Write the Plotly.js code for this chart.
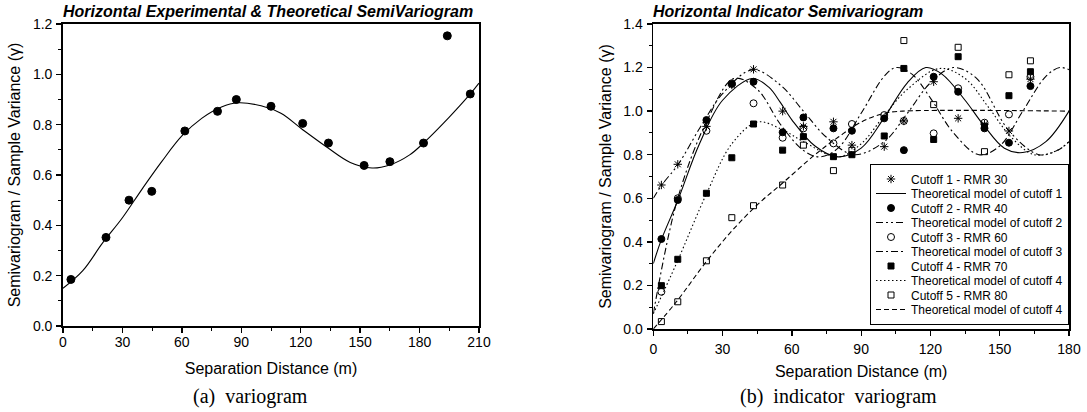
<!DOCTYPE html>
<html>
<head>
<meta charset="utf-8">
<script src="https://cdn.plot.ly/plotly-3.0.1.min.js"></script>
<style>
html,body{margin:0;padding:0;background:#fff;}
#chart{width:1087px;height:412px;}
</style>
</head>
<body>
<div id="chart"></div>
<script>
// ---------- (a) variogram ----------
const expLag   = [4, 21.7, 33.3, 44.8, 61.5, 78, 87.5, 105, 121, 134, 152, 165, 182, 194, 205.6];
const expGamma = [0.185, 0.352, 0.50, 0.535, 0.775, 0.853, 0.90, 0.873, 0.805, 0.727, 0.638, 0.653, 0.727, 1.153, 0.922];
const fitLag   = [0, 10, 20, 30, 40, 50, 60, 70, 80, 88, 100, 110, 121, 134, 145, 156, 165, 175, 182, 195, 205.6, 210];
const fitGamma = [0.15, 0.22, 0.33, 0.43, 0.545, 0.655, 0.755, 0.825, 0.87, 0.887, 0.875, 0.845, 0.78, 0.706, 0.65, 0.628, 0.64, 0.68, 0.727, 0.83, 0.922, 0.965];

// ---------- (b) indicator variogram ----------
const indLag = [3.5, 10.6, 23, 34, 43.4, 56, 65, 78, 86, 100, 108.5, 121.4, 132, 143.4, 154, 163.3];
const cut1 = [0.661, 0.756, 0.93, 1.12, 1.192, 1.0, 0.93, 0.951, 0.844, 0.837, 0.955, 1.135, 0.967, 0.94, 0.909, 1.147];
const cut2 = [0.413, 0.592, 0.959, 1.125, 1.135, 0.903, 0.971, 0.921, 0.91, 0.967, 0.821, 1.158, 1.089, 0.921, 0.855, 1.115];
const cut3 = [0.171, 0.60, 0.91, 1.128, 1.036, 0.878, 0.921, 0.852, 0.941, 0.982, 0.955, 0.898, 1.105, 0.947, 0.985, 1.158];
const cut4 = [0.199, 0.32, 0.623, 0.786, 0.941, 0.821, 0.883, 0.791, 0.80, 0.886, 1.196, 0.870, 1.25, 0.93, 1.071, 1.181];
const cut5 = [0.034, 0.125, 0.313, 0.511, 0.566, 0.661, 0.844, 0.727, 0.82, 0.737, 1.324, 1.03, 1.293, 0.814, 1.167, 1.231];

const m1Lag = [0, 3.5, 10.6, 20, 30, 43, 50, 55, 60, 70, 80, 90, 100, 110, 118, 125, 135, 143, 152, 160, 170, 180];
const m1Val = [0.30, 0.41, 0.59, 0.85, 1.05, 1.15, 1.11, 1.04, 0.96, 0.84, 0.79, 0.83, 0.97, 1.13, 1.2, 1.17, 1.05, 0.936, 0.83, 0.81, 0.86, 1.0];
const m2Lag = [0, 3.6, 10.8, 20, 30, 43, 55, 65, 75, 87, 100, 110, 120, 130, 140, 154, 167, 175, 180];
const m2Val = [0.60, 0.66, 0.756, 0.92, 1.08, 1.19, 1.12, 1.0, 0.88, 0.80, 0.86, 0.99, 1.13, 1.2, 1.15, 0.91, 0.80, 0.82, 0.86];
const m3Lag = [0, 10.6, 23, 35, 45, 55, 65, 72, 80, 90, 100, 105, 112, 120, 130, 141, 150, 160, 170, 176, 180];
const m3Val = [0.07, 0.6, 0.95, 1.15, 1.1, 0.94, 0.82, 0.79, 0.83, 0.99, 1.16, 1.2, 1.17, 1.06, 0.9, 0.80, 0.84, 1.0, 1.16, 1.2, 1.19];
const m4Lag = [0, 10, 23, 34, 45, 55, 65, 80, 90, 100, 110, 124, 135, 145, 155, 165, 175, 180];
const m4Val = [0.07, 0.3, 0.62, 0.85, 0.95, 0.92, 0.86, 0.79, 0.85, 0.98, 1.1, 1.196, 1.15, 1.02, 0.88, 0.80, 0.82, 0.86];
const m5Lag = [0, 10, 23, 34, 45, 56, 70, 80, 90, 100, 108, 180];
const m5Val = [0, 0.125, 0.31, 0.45, 0.57, 0.67, 0.80, 0.88, 0.95, 0.99, 1.0, 1.0];

const legendNames = [
  "Cutoff 1 - RMR 30", "Theoretical model of cutoff 1",
  "Cutoff 2 - RMR 40", "Theoretical model of cutoff 2",
  "Cutoff 3 - RMR 60", "Theoretical model of cutoff 3",
  "Cutoff 4 - RMR 70", "Theoretical model of cutoff 4",
  "Cutoff 5 - RMR 80", "Theoretical model of cutoff 4"
];

const FONT = "Liberation Sans, Arial, Helvetica, sans-serif";
const SERIF = "Liberation Serif, Times New Roman, serif";
const W = 1087, H = 412;

function pts(x, y, sym, size, name, show, xa, ya) {
  return {x: x, y: y, type: 'scatter', mode: 'markers', name: name, showlegend: show,
    xaxis: xa, yaxis: ya,
    marker: {symbol: sym, size: size, color: '#000', line: {color: '#000', width: 1}}};
}
function curve(x, y, dash, name, show, xa, ya) {
  return {x: x, y: y, type: 'scatter', mode: 'lines', name: name, showlegend: show,
    xaxis: xa, yaxis: ya, line: {color: '#000', width: 1.1, dash: dash, shape: 'spline', smoothing: 1}};
}

const traces = [
  curve(fitLag, fitGamma, 'solid', 'fit', false, 'x', 'y'),
  pts(expLag, expGamma, 'circle', 8, 'exp', false, 'x', 'y'),

  pts(indLag, cut1, 'asterisk-open', 7, legendNames[0], true, 'x2', 'y2'),
  curve(m1Lag, m1Val, 'solid', legendNames[1], true, 'x2', 'y2'),
  pts(indLag, cut2, 'circle', 7, legendNames[2], true, 'x2', 'y2'),
  curve(m2Lag, m2Val, '7px,3px,2px,3px,2px,3px', legendNames[3], true, 'x2', 'y2'),
  pts(indLag, cut3, 'circle-open', 7, legendNames[4], true, 'x2', 'y2'),
  curve(m3Lag, m3Val, '7px,3px,2px,3px', legendNames[5], true, 'x2', 'y2'),
  pts(indLag, cut4, 'square', 6, legendNames[6], true, 'x2', 'y2'),
  curve(m4Lag, m4Val, '1.5px,2.5px', legendNames[7], true, 'x2', 'y2'),
  pts(indLag, cut5, 'square-open', 6, legendNames[8], true, 'x2', 'y2'),
  curve(m5Lag, m5Val, '5px,3px', legendNames[9], true, 'x2', 'y2')
];

const axBase = {
  showline: true, linecolor: '#000', linewidth: 1.8, mirror: true,
  showgrid: false, zeroline: false,
  ticks: 'outside', ticklen: 5, tickwidth: 1.3, tickcolor: '#000',
  tickfont: {family: FONT, size: 14, color: '#000'},
  minor: {ticks: 'outside', ticklen: 3, tickwidth: 1, tickcolor: '#000'}
};

const layout = {
  width: W, height: H,
  margin: {l: 0, r: 0, t: 0, b: 0},
  paper_bgcolor: '#fff', plot_bgcolor: '#fff',
  font: {family: FONT, color: '#000'},
  showlegend: true,
  xaxis: Object.assign({}, axBase, {
    domain: [63/W, 479/W], range: [0, 210], tickmode: 'linear', tick0: 0, dtick: 30,
    minor: Object.assign({}, axBase.minor, {dtick: 15}), anchor: 'y', ticklabelstandoff: -3,
    title: {text: 'Separation Distance (m)', font: {family: FONT, size: 16}, standoff: 14}
  }),
  yaxis: Object.assign({}, axBase, {
    domain: [(H-326)/H, (H-24)/H], range: [0, 1.2], tickmode: 'linear', tick0: 0, dtick: 0.2, tickformat: '.1f',
    minor: Object.assign({}, axBase.minor, {dtick: 0.1}), anchor: 'x', ticklabelstandoff: 1,
    title: {text: 'Semivariogram / Sample Variance (γ)', font: {family: FONT, size: 16}, standoff: 8}
  }),
  xaxis2: Object.assign({}, axBase, {
    domain: [653.3/W, 1069/W], range: [0, 180], tickmode: 'linear', tick0: 0, dtick: 30,
    minor: Object.assign({}, axBase.minor, {dtick: 15}), anchor: 'y2', ticklabelstandoff: 1,
    title: {text: 'Separation Distance (m)', font: {family: FONT, size: 16}, standoff: 10}
  }),
  yaxis2: Object.assign({}, axBase, {
    domain: [(H-329)/H, (H-24)/H], range: [0, 1.4], tickmode: 'linear', tick0: 0, dtick: 0.2, tickformat: '.1f',
    minor: Object.assign({}, axBase.minor, {dtick: 0.1}), anchor: 'x2', ticklabelstandoff: 1,
    title: {text: 'Semivariogram / Sample Variance (γ)', font: {family: FONT, size: 16}, standoff: 8}
  }),
  legend: {
    x: 1069/W, xanchor: 'right', y: (H-325)/H, yanchor: 'bottom',
    bgcolor: '#fff', bordercolor: '#000', borderwidth: 1,
    font: {family: FONT, size: 12, color: '#000'}, tracegroupgap: 0, itemwidth: 30
  },
  annotations: [
    {text: '<b><i>Horizontal Experimental &amp; Theoretical SemiVariogram</i></b>', xref: 'paper', yref: 'paper',
     x: 61/W, y: (H-12)/H, xanchor: 'left', yanchor: 'middle', showarrow: false,
     font: {family: FONT, size: 16, color: '#000'}},
    {text: '<b><i>Horizontal Indicator Semivariogram</i></b>', xref: 'paper', yref: 'paper',
     x: 651/W, y: (H-12)/H, xanchor: 'left', yanchor: 'middle', showarrow: false,
     font: {family: FONT, size: 16, color: '#000'}},
    {text: '(a)  variogram', xref: 'paper', yref: 'paper',
     x: 250/W, y: (H-396)/H, xanchor: 'center', yanchor: 'middle', showarrow: false,
     font: {family: SERIF, size: 20, color: '#000'}},
    {text: '(b)  indicator  variogram', xref: 'paper', yref: 'paper',
     x: 838/W, y: (H-396)/H, xanchor: 'center', yanchor: 'middle', showarrow: false,
     font: {family: SERIF, size: 20, color: '#000'}}
  ]
};

// Tighten the legend's row spacing (the library's minimum row height is larger than the reference's).
function compactLegend(gd, step) {
  try {
    const leg = gd.querySelector('g.legend');
    if (!leg) return;
    const items = Array.from(leg.querySelectorAll('g.traces'));
    if (items.length < 2) return;
    const re = /translate\(\s*([-\d.eE]+)[\s,]+([-\d.eE]+)\s*\)/;
    const pos = items.map(el => {
      const m = re.exec(el.getAttribute('transform') || '');
      return m ? [parseFloat(m[1]), parseFloat(m[2])] : null;
    });
    if (pos.some(p => !p)) return;
    const oldStep = pos[1][1] - pos[0][1];
    if (oldStep <= step) return;
    items.forEach((el, i) => el.setAttribute('transform', 'translate(' + pos[i][0] + ',' + (pos[0][1] + i * step) + ')'));
    const shrink = (items.length - 1) * (oldStep - step);
    const bg = leg.querySelector('rect.bg');
    if (bg) bg.setAttribute('height', parseFloat(bg.getAttribute('height')) - shrink);
    const m = re.exec(leg.getAttribute('transform') || '');
    if (m) leg.setAttribute('transform', 'translate(' + parseFloat(m[1]) + ',' + (parseFloat(m[2]) + shrink) + ')');
  } catch (e) { /* keep default legend */ }
}

Plotly.newPlot('chart', traces, layout, {displayModeBar: false, staticPlot: true})
  .then(gd => compactLegend(gd, 14.5));
</script>
</body>
</html>
